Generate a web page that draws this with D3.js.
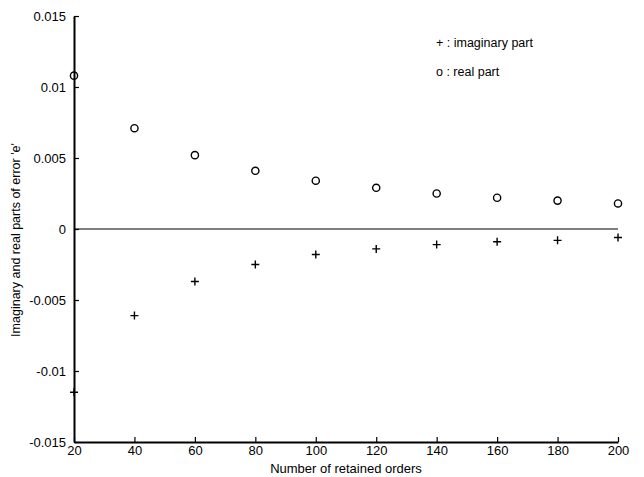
<!DOCTYPE html>
<html>
<head>
<meta charset="utf-8">
<script src="https://cdn.jsdelivr.net/npm/d3@7/dist/d3.min.js"></script>
<style>
  html, body { margin: 0; padding: 0; background: #fff; }
  svg { display: block; }
  text { font-family: "Liberation Sans", Arial, sans-serif; fill: #000; }
</style>
</head>
<body>
<svg id="chart" width="644" height="477"></svg>
<script>
// Number of retained orders
const orders = [20, 40, 60, 80, 100, 120, 140, 160, 180, 200];
// Real part of error e
const realPart = [0.0108, 0.0071, 0.0052, 0.0041, 0.0034, 0.0029, 0.0025, 0.0022, 0.0020, 0.0018];
// Imaginary part of error e
const imagPart = [-0.0115, -0.0061, -0.0037, -0.0025, -0.0018, -0.0014, -0.0011, -0.0009, -0.0008, -0.0006];
// Axis ticks
const xTicks = [20, 40, 60, 80, 100, 120, 140, 160, 180, 200];
const yTicks = [0.015, 0.01, 0.005, 0, -0.005, -0.01, -0.015];
const yTickLabels = ["0.015", "0.01", "0.005", "0", "-0.005", "-0.01", "-0.015"];

const svg = d3.select("#chart");
const plotLeft = 74, plotRight = 618, plotTop = 16, plotBottom = 442;

const x = d3.scaleLinear().domain([20, 200]).range([plotLeft, plotRight]);
const y = d3.scaleLinear().domain([-0.015, 0.015]).range([plotBottom, plotTop]);

// Zero reference line
svg.append("line")
  .attr("x1", x(20)).attr("x2", x(200))
  .attr("y1", y(0)).attr("y2", y(0))
  .attr("stroke", "#000").attr("stroke-width", 1.2);

// Axes with inward ticks
const xAxis = d3.axisBottom(x).tickValues(xTicks).tickSizeInner(-5).tickSizeOuter(0).tickPadding(4)
  .tickFormat(d3.format("d"));
const gx = svg.append("g").attr("transform", `translate(0,${plotBottom})`).call(xAxis);
gx.select(".domain").attr("stroke-width", 2);
gx.selectAll(".tick line").attr("stroke-width", 1.2);
gx.selectAll("text").attr("font-size", 13).attr("font-family", "Liberation Sans, Arial, sans-serif");

const yAxis = d3.axisLeft(y).tickValues(yTicks).tickSizeInner(-5).tickSizeOuter(0).tickPadding(8)
  .tickFormat((d, i) => yTickLabels[i]);
const gy = svg.append("g").attr("transform", `translate(${plotLeft},0)`).call(yAxis);
gy.select(".domain").attr("stroke-width", 2);
gy.selectAll(".tick line").attr("stroke-width", 1.2);
gy.selectAll("text").attr("font-size", 13).attr("font-family", "Liberation Sans, Arial, sans-serif");

// Real part: circles
svg.append("g").selectAll("circle")
  .data(orders.map((o, i) => [o, realPart[i]]))
  .join("circle")
  .attr("cx", d => x(d[0])).attr("cy", d => y(d[1]))
  .attr("r", 3.6)
  .attr("fill", "none").attr("stroke", "#000").attr("stroke-width", 1.4);

// Imaginary part: plus markers
svg.append("g").selectAll("path")
  .data(orders.map((o, i) => [o, imagPart[i]]))
  .join("path")
  .attr("transform", d => `translate(${x(d[0])},${y(d[1])})`)
  .attr("d", "M-4,0H4M0,-4V4")
  .attr("stroke", "#000").attr("stroke-width", 1.4).attr("fill", "none");

// Legend
svg.append("text").attr("x", 436).attr("y", 47).attr("font-size", 12.5).text("+ : imaginary part");
svg.append("text").attr("x", 436).attr("y", 76).attr("font-size", 12.5).text("o : real part");

// Axis titles
svg.append("text")
  .attr("x", (plotLeft + plotRight) / 2).attr("y", 473)
  .attr("text-anchor", "middle").attr("font-size", 13)
  .text("Number of retained orders");

svg.append("text")
  .attr("transform", `translate(20,240) rotate(-90)`)
  .attr("text-anchor", "middle").attr("font-size", 12.5)
  .text("Imaginary and real parts of error 'e'");
</script>
</body>
</html>
